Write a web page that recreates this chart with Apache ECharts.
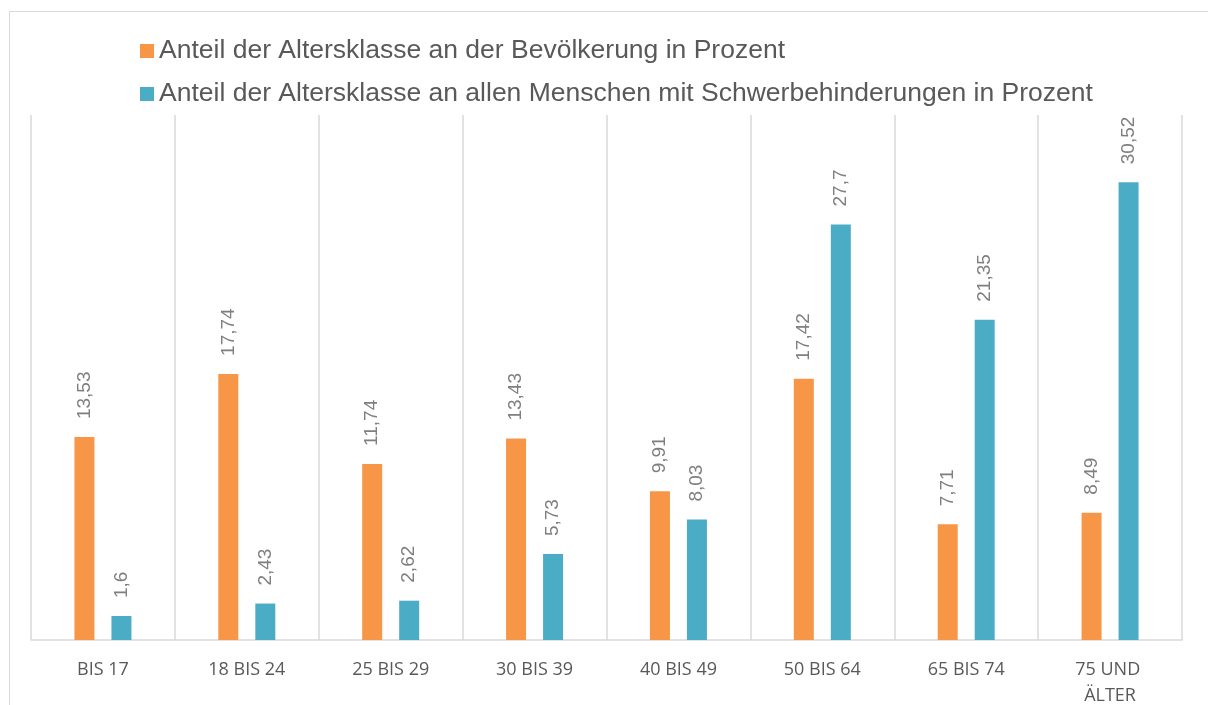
<!DOCTYPE html>
<html>
<head>
<meta charset="utf-8">
<script src="https://cdn.jsdelivr.net/npm/echarts@6/dist/echarts.min.js"></script>
<style>
html, body { margin: 0; padding: 0; background: #fff; }
#main { width: 1208px; height: 705px; }
</style>
</head>
<body>
<div id="main"></div>
<script>
var categories = ['BIS 17', '18 BIS 24', '25 BIS 29', '30 BIS 39', '40 BIS 49', '50 BIS 64', '65 BIS 74', '75 UND ÄLTER'];
var seriesNames = [
    'Anteil der Altersklasse an der Bevölkerung in Prozent',
    'Anteil der Altersklasse an allen Menschen mit Schwerbehinderungen in Prozent'
];
var bevoelkerung = [13.53, 17.74, 11.74, 13.43, 9.91, 17.42, 7.71, 8.49];
var schwerbehindert = [1.6, 2.43, 2.62, 5.73, 8.03, 27.7, 21.35, 30.52];

var mychart = echarts.init(document.getElementById('main'));

// Werte mit Komma statt Punkt
function komma(p) {
    return String(p.value).replace('.', ',');
}

var barLabel = {
    show: true,
    position: 'top',
    rotate: 90,
    align: 'left',
    verticalAlign: 'middle',
    distance: 18,
    color: '#7f7f7f',
    fontSize: 19,
    fontFamily: 'Liberation Sans, Arial, sans-serif',
    formatter: komma
};

var option = {
    animation: false,
    color: ['#F79646', '#4BACC6'],
    graphic: [{
        type: 'rect',
        shape: {x: 9.5, y: 11.5, width: 1400, height: 900},
        style: {fill: 'none', stroke: '#d9d9d9', lineWidth: 1},
        silent: true
    }],
    legend: {
        orient: 'vertical',
        left: 135,
        top: 32,
        itemWidth: 14,
        itemHeight: 14,
        itemGap: 15,
        icon: 'rect',
        textStyle: {
            fontSize: 26.5,
            lineHeight: 28,
            color: '#595959',
            fontFamily: 'Liberation Sans, Arial, sans-serif'
        },
        data: seriesNames
    },
    grid: {
        left: 31,
        right: 26,
        top: 115,
        bottom: 65,
        outerBoundsMode: 'none',
        containLabel: false
    },
    xAxis: {
        type: 'category',
        data: categories,
        axisLine: {lineStyle: {color: '#d9d9d9', width: 1.5}},
        axisTick: {show: false, interval: 0},
        splitLine: {show: true, interval: 0, lineStyle: {color: '#d9d9d9', width: 1.5}},
        axisLabel: {
            interval: 0,
            margin: 17,
            color: '#595959',
            fontSize: 18,
            fontFamily: 'Open Sans, sans-serif',
            width: 90,
            overflow: 'break',
            lineHeight: 26
        }
    },
    yAxis: {
        type: 'value',
        min: 0,
        max: 35,
        show: false,
        splitLine: {show: false}
    },
    series: [
        {
            name: seriesNames[0],
            type: 'bar',
            barWidth: 20,
            barGap: '85%',
            data: bevoelkerung,
            label: barLabel
        },
        {
            name: seriesNames[1],
            type: 'bar',
            barWidth: 20,
            barGap: '85%',
            data: schwerbehindert,
            label: barLabel
        }
    ]
};

mychart.setOption(option);
</script>
</body>
</html>
